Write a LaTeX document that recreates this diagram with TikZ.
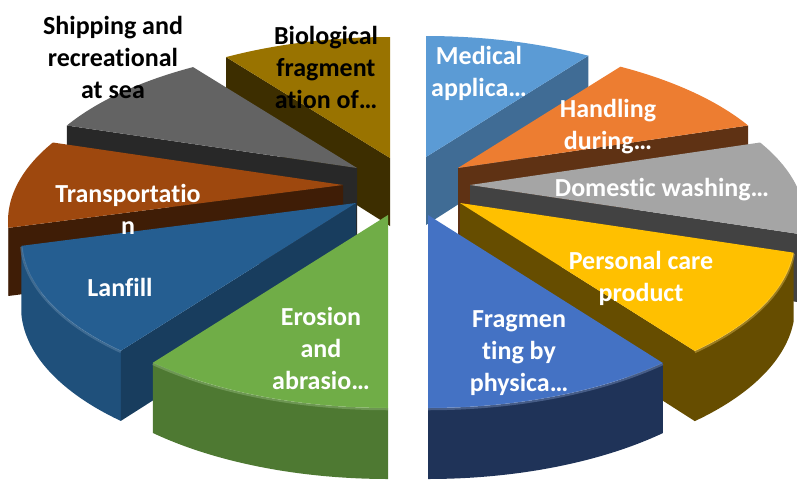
\documentclass[tikz,border=0pt]{standalone}
\usepackage{fontspec}
\setmainfont{Carlito}[Ligatures=CommonOff]

% slice colours (top, cut face, outer wall)
\definecolor{medtop}{HTML}{5B9BD5}
\definecolor{hantop}{HTML}{ED7D31}
\definecolor{domtop}{HTML}{A5A5A5}
\definecolor{pertop}{HTML}{FFC000}
\definecolor{fratop}{HTML}{4472C4}
\definecolor{erotop}{HTML}{70AD47}
\definecolor{lantop}{HTML}{255E91}
\definecolor{tratop}{HTML}{9E480E}
\definecolor{shitop}{HTML}{636363}
\definecolor{biotop}{HTML}{997300}

% top face of a slice: offset x, offset y, from, to, colour
\newcommand{\pietop}[5]{%
  \fill[#5] ({409+(#1)},{188+(#2)}) -- plot[domain=#3:#4,samples=48]
    ({409+(#1)+335*cos(\x)},{224+(#2)-157*sin(\x)}) -- cycle;}
% cut face of a slice: offset x, offset y, angle, colour
\newcommand{\pieface}[4]{%
  \fill[#4] ({409+(#1)},{188+(#2)})
    -- ({409+(#1)+335*cos(#3)},{224+(#2)-157*sin(#3)})
    -- ({409+(#1)+335*cos(#3)},{292+(#2)-160*sin(#3)})
    -- ({409+(#1)},{256+(#2)}) -- cycle;}
% outer wall of a slice: offset x, offset y, from, to, colour
\newcommand{\piewall}[5]{%
  \fill[#5] plot[domain=#3:#4,samples=48]
    ({409+(#1)+335*cos(\x)},{224+(#2)-157*sin(\x)})
    -- plot[domain=#4:#3,samples=48]
    ({409+(#1)+335*cos(\x)},{292+(#2)-160*sin(\x)}) -- cycle;}
% soft bevel along the front rim
\newcommand{\pierim}[5]{%
  \draw[#5,line width=2.5pt,opacity=0.35] plot[domain=#3:#4,samples=48]
    ({409+(#1)+335*cos(\x)},{225+(#2)-157*sin(\x)});}

\tikzset{
  lbl/.style={font=\bfseries\fontsize{26}{32}\selectfont, text=white,
    align=center, inner sep=0pt},
  outlbl/.style={lbl, text=black}
}

\begin{document}
\begin{tikzpicture}[x=1pt,y=-1pt]
    \useasboundingbox (0,0) rectangle (797,483);

    % back slices first
    % Medical
    \pieface{17}{-31}{61}{medtop!70!black}
    \pietop{17}{-31}{61}{90}{medtop}
    % Biological
    \pieface{-19}{-30}{119.3}{biotop!40!black}
    \pietop{-19}{-30}{90}{119.3}{biotop}
    % Handling
    \pieface{49}{-20}{30}{hantop!40!black}
    \pietop{49}{-20}{30}{61}{hantop}
    % Shipping
    \pieface{-52}{-20}{150}{shitop!40!black}
    \pietop{-52}{-20}{119.3}{150}{shitop}
    % Domestic washing
    \piewall{61}{-3}{-5}{0}{domtop!40!black}
    \pieface{61}{-3}{-5}{domtop!40!black}
    \pietop{61}{-3}{-5}{30}{domtop}
    % Transportation
    \piewall{-66}{-3}{180}{182.5}{tratop!40!black}
    \pieface{-66}{-3}{182.5}{tratop!40!black}
    \pietop{-66}{-3}{150}{182.5}{tratop}

    % front slices
    % Personal care
    \piewall{51}{15}{-45.5}{-5}{pertop!40!black}
    \pieface{51}{15}{-45.5}{pertop!40!black}
    \pietop{51}{15}{-45.5}{-5}{pertop}
    \pierim{51}{15}{-45.5}{-5}{pertop!60!white}
    % Lanfill
    \piewall{-53}{15}{182.5}{225.4}{lantop!85!black}
    \pieface{-53}{15}{225.4}{lantop!65!black}
    \pietop{-53}{15}{182.5}{225.4}{lantop}
    \pierim{-53}{15}{182.5}{225.4}{lantop!60!white}
    % Fragmenting
    \piewall{19}{27}{-90}{-45.5}{fratop!45!black}
    \pietop{19}{27}{-90}{-45.5}{fratop}
    \pierim{19}{27}{-90}{-45.5}{fratop!60!white}
    % Erosion
    \piewall{-21}{27}{225.4}{270}{erotop!70!black}
    \pietop{-21}{27}{225.4}{270}{erotop}
    \pierim{-21}{27}{225.4}{270}{erotop!60!white}

    % labels
    \node[outlbl] (shiplbl) at (113,57) {Shipping and\\recreational\\at sea};
    \node[outlbl] (biolbl)  at (326,67) {Biological\\fragment\\ation of…};
    \node[lbl] (medlbl) at (479,73)  {Medical\\applica…};
    \node[lbl] (hanlbl) at (608,127) {Handling\\during…};
    \node[lbl] (domlbl) at (662,190) {Domestic washing…};
    \node[lbl] (perlbl) at (641,278) {Personal care\\product};
    \node[lbl] (fralbl) at (519,353) {Fragmen\\ting by\\physica…};
    \node[lbl] (erolbl) at (321,348) {Erosion\\and\\abrasio…};
    \node[lbl] (lanlbl) at (120,287) {Lanfill};
    \node[lbl] (tralbl) at (128,209) {Transportatio\\n};
\end{tikzpicture}
\end{document}
